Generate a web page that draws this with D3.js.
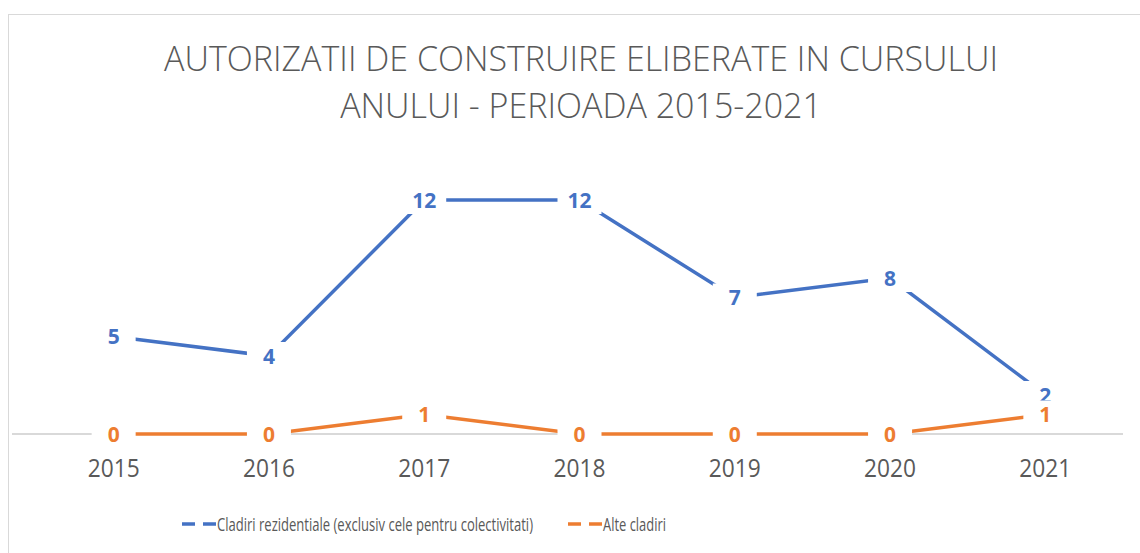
<!DOCTYPE html>
<html>
<head>
<script src="https://cdn.jsdelivr.net/npm/d3@7"></script>
<style>
  body { margin: 0; background: #fff; }
  text { font-family: "Open Sans", sans-serif; }
</style>
</head>
<body>
<div id="chart"></div>
<script>
// data
const years = ["2015", "2016", "2017", "2018", "2019", "2020", "2021"];
const rezidentiale = [5, 4, 12, 12, 7, 8, 2];
const alteCladiri = [0, 0, 1, 0, 0, 0, 1];
const seriesNames = ["Cladiri rezidentiale (exclusiv cele pentru colectivitati)", "Alte cladiri"];
const seriesColors = ["#4472C4", "#ED7D31"];
const titleLines = ["AUTORIZATII DE CONSTRUIRE ELIBERATE IN CURSULUI", "ANULUI - PERIOADA 2015-2021"];

const width = 1140, height = 553;
const plot = { left: 36, right: 1123, top: 200, bottom: 434 };

const svg = d3.select('#chart').append('svg')
    .attr('width', width)
    .attr('height', height);

// chart frame (cropped at right / bottom like the reference)
svg.append('rect')
    .attr('x', 8.5).attr('y', 14.5)
    .attr('width', 1200).attr('height', 600)
    .attr('fill', '#fff')
    .attr('stroke', '#d9d9d9');

// title
svg.append('g').selectAll('text')
    .data(titleLines)
    .enter().append('text')
    .attr('x', 581)
    .attr('y', (d, i) => 71 + i * 47)
    .attr('text-anchor', 'middle')
    .attr('fill', '#595959')
    .style('font-size', '34px')
    .style('font-weight', 300)
    .text(d => d);

const x = d3.scaleBand().domain(years).range([plot.left, plot.right]);
const y = d3.scaleLinear().domain([0, 12]).range([plot.bottom, plot.top]);
const cx = d => x(d) + x.bandwidth() / 2;

// x axis
const xAxis = svg.append('g')
    .attr('transform', `translate(0,${plot.bottom})`)
    .call(d3.axisBottom(x).tickSize(0));
xAxis.select('.domain')
    .attr('stroke', '#d9d9d9')
    .attr('stroke-width', 2)
    .attr('d', `M12,0H${plot.right}`);
xAxis.selectAll('text')
    .attr('y', 43)
    .attr('dy', 0)
    .attr('fill', '#595959')
    .attr('textLength', 52)
    .attr('lengthAdjust', 'spacingAndGlyphs')
    .style('font-size', '26px')
    .style('font-family', '"Open Sans", sans-serif');

const series = [rezidentiale, alteCladiri];
const line = d3.line()
    .x((d, i) => cx(years[i]))
    .y(d => y(d));

series.forEach((vals, s) => {
    svg.append('path')
        .datum(vals)
        .attr('fill', 'none')
        .attr('stroke', seriesColors[s])
        .attr('stroke-width', 3.5)
        .attr('d', line);
});

// data labels with white boxes that hide the line underneath
series.forEach((vals, s) => {
    const g = svg.append('g').selectAll('g')
        .data(vals)
        .enter().append('g')
        .attr('transform', (d, i) => `translate(${cx(years[i])},${y(d)})`);
    g.append('rect')
        .attr('x', -22).attr('y', -14)
        .attr('width', 44).attr('height', 28)
        .attr('fill', '#fff');
    g.append('text')
        .attr('text-anchor', 'middle')
        .attr('dy', '0.36em')
        .attr('fill', seriesColors[s])
        .style('font-size', '21px')
        .style('font-weight', 700)
        .text(d => d);
});

// legend
const legendX = [182, 568];
const legendTextWidth = [316, 63];
const legend = svg.append('g').selectAll('g')
    .data(seriesNames)
    .enter().append('g')
    .attr('transform', (d, i) => `translate(${legendX[i]},524)`);
legend.append('line')
    .attr('x1', 0).attr('x2', 34)
    .attr('stroke', (d, i) => seriesColors[i])
    .attr('stroke-width', 3.5)
    .attr('stroke-dasharray', '13,8');
legend.append('text')
    .attr('x', 35)
    .attr('y', 7)
    .attr('fill', '#595959')
    .attr('textLength', (d, i) => legendTextWidth[i])
    .attr('lengthAdjust', 'spacingAndGlyphs')
    .style('font-size', '19px')
    .text(d => d);
</script>
</body>
</html>
